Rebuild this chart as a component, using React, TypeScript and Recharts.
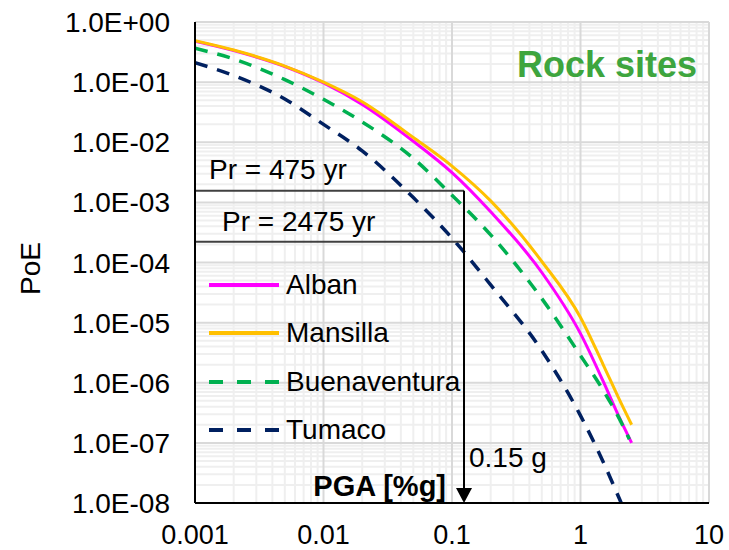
import {
  LineChart, Line, XAxis, YAxis, CartesianGrid,
  ReferenceLine, Legend,
} from "recharts"

const FONT = "'Liberation Sans', Arial, sans-serif"

// PGA [g] sample points
const pga = [0.001, 0.002, 0.005, 0.01, 0.02, 0.05, 0.1, 0.2, 0.5, 1, 1.5, 2, 2.5]
const pgaBuenaventura = [0.001, 0.002, 0.005, 0.01, 0.02, 0.05, 0.1, 0.2, 0.5, 1, 1.5, 2, 2.4]

// probability of exceedance per site
const alban = [0.48, 0.335, 0.182, 0.097, 0.0426, 0.0104, 3.13e-3, 6.98e-4, 6.82e-5, 6.56e-6, 1.06e-6, 2.68e-7, 1.0e-7]
const mansilla = [0.49, 0.342, 0.185, 0.1, 0.0472, 0.012, 4.02e-3, 1.06e-3, 1.04e-4, 1.22e-5, 2.01e-6, 5.33e-7, 2.0e-7]
const buenaventura = [0.365, 0.243, 0.11, 0.0518, 0.0218, 5.4e-3, 1.31e-3, 2.88e-4, 2.51e-5, 2.83e-6, 7.53e-7, 2.55e-7, 1.15e-7]
const tumaco = [0.21, 0.129, 0.0524, 0.0198, 7.19e-3, 1.2e-3, 2.55e-4, 4.24e-5, 3.42e-6, 2.84e-7, 4.85e-8, 1.2e-8, 4e-9]

const xTicks = [0.001, 0.01, 0.1, 1, 10]
const yTicks = [1, 1e-1, 1e-2, 1e-3, 1e-4, 1e-5, 1e-6, 1e-7, 1e-8]

// return period levels and design PGA
const poe475 = 1.56e-3
const poe2475 = 2.21e-4
const pgaDesign = 0.124

const toPoints = (xs: number[], ys: number[]) => xs.map((x, i) => ({ x, y: ys[i] }))

const series = [
  { name: "Alban", color: "#FF00FF", dash: false, data: toPoints(pga, alban) },
  { name: "Mansilla", color: "#FFC000", dash: false, data: toPoints(pga, mansilla) },
  { name: "Buenaventura", color: "#00B050", dash: true, data: toPoints(pgaBuenaventura, buenaventura) },
  { name: "Tumaco", color: "#002060", dash: true, data: toPoints(pga, tumaco) },
]

// minor grid values (2..9 within each decade)
const minorX: number[] = []
for (let e = -3; e <= 0; e++) for (let k = 2; k <= 9; k++) minorX.push(k * Math.pow(10, e))
const minorY: number[] = []
for (let e = -8; e <= -1; e++) for (let k = 2; k <= 9; k++) minorY.push(k * Math.pow(10, e))

const frame = { stroke: "#000", strokeWidth: 2 }

function formatE(v: number): string {
  const e = Math.floor(Math.log10(v) + 1e-9)
  const m = v / Math.pow(10, e)
  const sign = e < 0 ? "-" : "+"
  return `${m.toFixed(1)}E${sign}${String(Math.abs(e)).padStart(2, "0")}`
}

function YTick({ x, y, payload }: any) {
  return (
    <text x={x} y={y} dy="0.36em" textAnchor="end" fontFamily={FONT} fontSize={28} fill="#000">
      {formatE(payload.value)}
    </text>
  )
}

function XTick({ x, y, payload }: any) {
  return (
    <text x={x} y={y + 41} textAnchor="middle" fontFamily={FONT} fontSize={27} fill="#000">
      {String(payload.value)}
    </text>
  )
}

function PrLine(text: string, dx: number, dy: number) {
  return (p: any) => (
    <g>
      <line x1={p.x1} y1={p.y1} x2={p.x2} y2={p.y2} stroke="#404040" strokeWidth={2} />
      <text x={Math.min(p.x1, p.x2) + dx} y={p.y1 - dy} fontFamily={FONT} fontSize={28} fill="#000">
        {text}
      </text>
    </g>
  )
}

function ArrowLine(p: any) {
  const top = Math.min(p.y1, p.y2)
  const bottom = Math.max(p.y1, p.y2)
  const x = p.x1
  return (
    <g>
      <line x1={x} y1={top} x2={x} y2={bottom - 12} stroke="#000" strokeWidth={2} />
      <polygon points={`${x - 8},${bottom - 15} ${x + 8},${bottom - 15} ${x},${bottom}`} fill="#000" />
      <text x={x + 5} y={bottom - 36} fontFamily={FONT} fontSize={28} fill="#000">0.15 g</text>
      <text x={x - 18} y={bottom - 7} textAnchor="end" fontFamily={FONT} fontSize={29} fontWeight="bold" fill="#000">
        PGA [%g]
      </text>
    </g>
  )
}

function LegendBox() {
  return (
    <div style={{ fontFamily: FONT, fontSize: 28, color: "#000" }}>
      {series.map((s) => (
        <div key={s.name} style={{ display: "flex", alignItems: "center", height: 48.3 }}>
          <svg width={70} height={6} style={{ display: "block" }}>
            <line x1={0} y1={3} x2={70} y2={3} stroke={s.color} strokeWidth={4}
              strokeDasharray={s.dash ? "14 14" : undefined} />
          </svg>
          <span style={{ marginLeft: 7, lineHeight: "32px" }}>{s.name}</span>
        </div>
      ))}
    </div>
  )
}

function RockLabel({ viewBox }: any) {
  return (
    <text x={viewBox.x + viewBox.width - 12} y={viewBox.y + 55} textAnchor="end"
      fontFamily={FONT} fontSize={36} fontWeight="bold" fill="#3EA53E">Rock sites</text>
  )
}

export default function App() {
  return (
    <div style={{ position: "absolute", left: 0, top: 0, background: "#fff" }}>
      <LineChart width={729} height={550} margin={{ top: 22, right: 20, bottom: 0, left: 20 }}>
        <CartesianGrid horizontalValues={minorY} verticalValues={minorX} stroke="#EFEFEF" strokeWidth={2} />
        <CartesianGrid horizontalValues={yTicks} verticalValues={xTicks} stroke="#D9D9D9" strokeWidth={2} />
        <XAxis
          dataKey="x"
          type="number"
          scale="log"
          domain={[0.001, 10]}
          ticks={xTicks}
          interval={0}
          allowDataOverflow
          height={47}
          tickSize={0}
          tickMargin={0}
          axisLine={frame}
          tick={<XTick />}
        />
        <XAxis xAxisId="top" orientation="top" type="number" scale="log" domain={[0.001, 10]}
          allowDataOverflow height={0} tick={false} tickLine={false} axisLine={frame} />
        <YAxis
          type="number"
          scale="log"
          domain={[1e-8, 1]}
          ticks={yTicks}
          interval={0}
          allowDataOverflow
          width={175}
          tickSize={0}
          tickMargin={25}
          axisLine={frame}
          tick={<YTick />}
          label={({ viewBox }: any) => {
            const cx = viewBox.x + 10
            const cy = viewBox.y + viewBox.height / 2 + 6
            return (
              <text x={cx} y={cy} dy="0.36em" textAnchor="middle" transform={`rotate(-90 ${cx} ${cy})`}
                fontFamily={FONT} fontSize={28} fill="#000">PoE</text>
            )
          }}
        />
        <YAxis yAxisId="right" orientation="right" type="number" scale="log" domain={[1e-8, 1]}
          allowDataOverflow width={0} tick={false} tickLine={false} axisLine={frame} />
        <Legend
          layout="vertical"
          align="center"
          verticalAlign="middle"
          content={<LegendBox />}
          wrapperStyle={{ position: "absolute", left: 209, top: 261, width: 300 }}
        />
        {series.map((s) => (
          <Line
            key={s.name}
            data={s.data}
            dataKey="y"
            name={s.name}
            type="monotone"
            stroke={s.color}
            strokeWidth={s.dash ? 3.5 : 3}
            strokeDasharray={s.dash ? "13 10" : undefined}
            dot={false}
            activeDot={false}
            isAnimationActive={false}
          />
        ))}
        <ReferenceLine
          segment={[{ x: 0.001, y: poe475 }, { x: pgaDesign, y: poe475 }]}
          shape={PrLine("Pr = 475 yr", 14, 12)}
        />
        <ReferenceLine
          segment={[{ x: 0.001, y: poe2475 }, { x: pgaDesign, y: poe2475 }]}
          shape={PrLine("Pr = 2475 yr", 27, 11)}
        />
        <ReferenceLine
          segment={[{ x: pgaDesign, y: poe475 }, { x: pgaDesign, y: 1e-8 }]}
          shape={ArrowLine}
        />
        <ReferenceLine y={1} stroke="none"
          label={(props: any) => <RockLabel viewBox={{ ...props.viewBox, width: 514 }} />} />
      </LineChart>
    </div>
  )
}
